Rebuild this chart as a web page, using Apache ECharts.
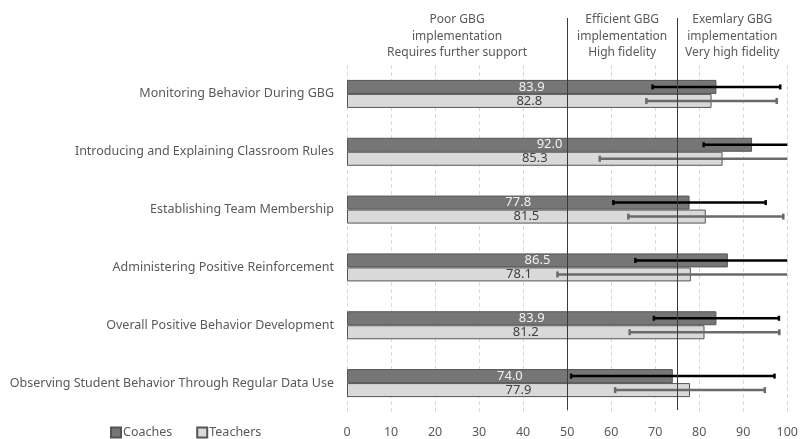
<!DOCTYPE html>
<html>
<head>
<meta charset="utf-8">
<script src="https://cdn.jsdelivr.net/npm/echarts@6/dist/echarts.min.js"></script>
<style>
  html, body { margin: 0; padding: 0; background: #fff; }
  #chart { width: 801px; height: 439px; }
</style>
</head>
<body>
<div id="chart"></div>
<script>
// Implementation components, top to bottom
const categories = [
  'Monitoring Behavior During GBG',
  'Introducing and Explaining Classroom Rules',
  'Establishing Team Membership',
  'Administering Positive Reinforcement',
  'Overall Positive Behavior Development',
  'Observing Student Behavior Through Regular Data Use'
];
// Mean fidelity scores (%)
const coaches = [83.9, 92.0, 77.8, 86.5, 83.9, 74.0];
const teachers = [82.8, 85.3, 81.5, 78.1, 81.2, 77.9];
// Error bar half-widths
const coachesErr = [14.5, 11.0, 17.3, 21.0, 14.2, 23.1];
const teachersErr = [14.8, 27.9, 17.6, 30.3, 17.0, 17.0];
// Fidelity zone boundaries and their headings
const zoneBreaks = [50, 75];
const zoneEdges = [0, 50, 75, 100];
const zoneLabels = [
  ['Poor GBG', 'implementation', 'Requires further support'],
  ['Efficient GBG', 'implementation', 'High fidelity'],
  ['Exemlary GBG', 'implementation', 'Very high fidelity']
];
const xTicks = [0, 10, 20, 30, 40, 50, 60, 70, 80, 90, 100];

const FONT = 'Noto Sans';
const TXT = '#595959';
const BAR_W = 14;

const chart = echarts.init(document.getElementById('chart'), null, { renderer: 'canvas' });

function errorRenderer(offset, color, capH) {
  return function (params, api) {
    const cat = api.value(0);
    const val = api.value(1);
    const err = api.value(2);
    const lo = Math.max(val - err, 0);
    const hi = Math.min(val + err, 100);
    const yC = api.coord([val, cat])[1] + offset;
    const x1 = api.coord([lo, cat])[0];
    const x2 = api.coord([hi, cat])[0];
    const style = { stroke: color, lineWidth: 2.5 };
    const children = [{
      type: 'line', shape: { x1: x1, y1: yC, x2: x2, y2: yC }, style: style
    }];
    if (val - err >= 0) {
      children.push({ type: 'line', shape: { x1: x1, y1: yC - capH / 2, x2: x1, y2: yC + capH / 2 }, style: style });
    }
    if (val + err <= 100) {
      children.push({ type: 'line', shape: { x1: x2, y1: yC - capH / 2, x2: x2, y2: yC + capH / 2 }, style: style });
    }
    return { type: 'group', children: children };
  };
}

const option = {
  animation: false,
  backgroundColor: '#ffffff',
  textStyle: { fontFamily: FONT },
  grid: { left: 347, right: 12, top: 65, bottom: 27, containLabel: false },
  legend: {
    data: ['Coaches', 'Teachers'],
    left: 110, top: 426, padding: 0,
    icon: 'rect', itemWidth: 10, itemHeight: 10, itemGap: 24,
    textStyle: { color: TXT, fontSize: 12.5, fontFamily: FONT, padding: [0, 0, 0, -3] }
  },
  xAxis: {
    type: 'value', min: 0, max: 100, interval: 10,
    axisLine: { show: false }, axisTick: { show: false },
    axisLabel: { color: TXT, fontSize: 12.5, margin: 14, fontFamily: FONT,
      formatter: function (v) { return xTicks.indexOf(v) >= 0 ? String(v) : ''; } },
    splitLine: { show: true, lineStyle: { color: '#d9d9d9', type: [4, 3], width: 1 } }
  },
  yAxis: {
    type: 'category', data: categories, inverse: true,
    axisLine: { show: false }, axisTick: { show: false },
    axisLabel: { color: TXT, fontSize: 12.5, margin: 13, fontFamily: FONT }
  },
  series: [
    {
      name: 'Coaches', type: 'bar', data: coaches, barWidth: BAR_W, barGap: '0%',
      itemStyle: { color: '#767676', borderColor: '#555555', borderWidth: 1 },
      label: { show: true, position: 'inside', color: '#f2f2f2', fontSize: 13, fontFamily: FONT,
        formatter: function (p) { return p.value.toFixed(1); } },
      z: 2
    },
    {
      name: 'Teachers', type: 'bar', data: teachers, barWidth: BAR_W, barGap: '0%',
      itemStyle: { color: '#d9d9d9', borderColor: '#555555', borderWidth: 1 },
      label: { show: true, position: 'inside', color: '#404040', fontSize: 13, fontFamily: FONT,
        formatter: function (p) { return p.value.toFixed(1); } },
      z: 2
    },
    {
      type: 'custom', name: 'coachErr', silent: true, z: 5,
      data: coaches.map(function (v, i) { return [i, v, coachesErr[i]]; }),
      encode: { y: 0, x: 1 },
      renderItem: errorRenderer(-BAR_W / 2, '#000000', 5)
    },
    {
      type: 'custom', name: 'teacherErr', silent: true, z: 5,
      data: teachers.map(function (v, i) { return [i, v, teachersErr[i]]; }),
      encode: { y: 0, x: 1 },
      renderItem: errorRenderer(BAR_W / 2, '#6a6a6a', 6)
    },
    {
      // zone dividers plus the heading above each zone
      type: 'custom', name: 'zones', silent: true, z: 6, clip: false,
      data: [0],
      encode: { x: 0 },
      renderItem: function (params, api) {
        const cs = params.coordSys;
        const children = [];
        zoneBreaks.forEach(function (b) {
          const x = Math.round(api.coord([b, 0])[0]) + 0.5;
          children.push({ type: 'line', shape: { x1: x, y1: cs.y - 47, x2: x, y2: cs.y + cs.height - 2 },
            style: { stroke: '#3a3a3a', lineWidth: 1 } });
        });
        zoneLabels.forEach(function (lines, i) {
          const xm = api.coord([(zoneEdges[i] + zoneEdges[i + 1]) / 2, 0])[0];
          lines.forEach(function (t, j) {
            children.push({ type: 'text', style: {
              text: t, x: xm, y: cs.y - 45 + j * 16.3,
              align: 'center', verticalAlign: 'middle',
              fill: TXT, fontSize: 12, fontFamily: FONT
            } });
          });
        });
        return { type: 'group', children: children };
      }
    }
  ]
};
chart.setOption(option);
</script>
</body>
</html>
